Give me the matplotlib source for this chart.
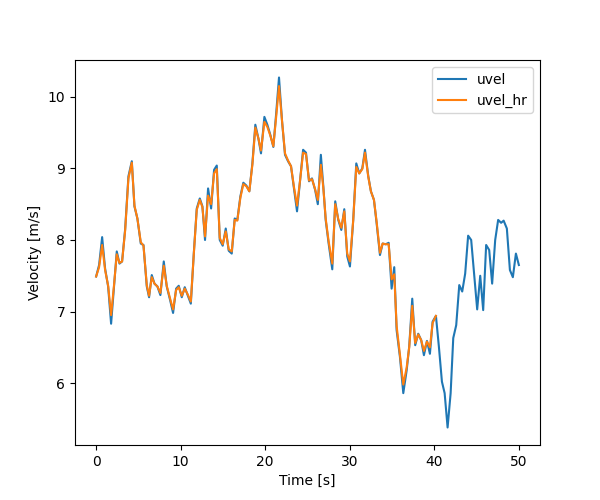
import matplotlib
matplotlib.use("Agg")
import matplotlib.pyplot as plt

# uvel samples (time [s], velocity [m/s])
time = [0.00, 0.35, 0.71, 1.06, 1.42, 1.77, 2.10, 2.44, 2.76, 3.07,
        3.43, 3.82, 4.22, 4.53, 4.88, 5.28, 5.60, 5.99, 6.26, 6.58,
        6.90, 7.25, 7.60, 8.00, 8.35, 8.75, 9.10, 9.46, 9.77, 10.13,
        10.48, 10.83, 11.20, 11.55, 11.90, 12.26, 12.57, 12.88, 13.24, 13.60,
        13.95, 14.27, 14.62, 14.97, 15.33, 15.68, 16.04, 16.39, 16.70, 17.06,
        17.41, 17.77, 18.12, 18.48, 18.83, 19.19, 19.50, 19.90, 20.25, 20.60,
        20.96, 21.31, 21.63, 21.99, 22.34, 22.70, 23.05, 23.40, 23.76, 24.11,
        24.48, 24.82, 25.18, 25.53, 25.90, 26.22, 26.58, 26.87, 27.15, 27.50,
        27.93, 28.28, 28.64, 29.00, 29.35, 29.70, 30.02, 30.41, 30.77, 31.12,
        31.48, 31.80, 32.19, 32.50, 32.86, 33.18, 33.57, 33.89, 34.24, 34.60,
        34.95, 35.26, 35.54, 35.93, 36.33, 36.73, 37.03, 37.39, 37.74, 38.10,
        38.45, 38.77, 39.13, 39.48, 39.80, 40.19, 40.54, 40.90, 41.22, 41.57,
        41.93, 42.24, 42.59, 42.95, 43.30, 43.65, 44.00, 44.36, 44.72, 45.07,
        45.43, 45.78, 46.13, 46.49, 46.84, 47.20, 47.55, 47.90, 48.20, 48.58,
        48.94, 49.29, 49.65, 50.00]

uvel = [7.49, 7.65, 8.04, 7.60, 7.35, 6.83, 7.32, 7.84, 7.67, 7.70,
        8.15, 8.89, 9.10, 8.47, 8.30, 7.95, 7.93, 7.35, 7.20, 7.51,
        7.39, 7.35, 7.23, 7.70, 7.35, 7.16, 6.98, 7.32, 7.36, 7.20,
        7.34, 7.23, 7.11, 7.81, 8.44, 8.58, 8.47, 8.00, 8.72, 8.44,
        8.98, 9.04, 8.00, 7.92, 8.16, 7.85, 7.81, 8.30, 8.28, 8.61,
        8.80, 8.76, 8.68, 9.07, 9.61, 9.42, 9.21, 9.72, 9.61, 9.47,
        9.30, 9.79, 10.27, 9.66, 9.19, 9.10, 9.03, 8.72, 8.40, 8.82,
        9.26, 9.22, 8.82, 8.86, 8.70, 8.50, 9.19, 8.75, 8.28, 7.95,
        7.59, 8.54, 8.28, 8.14, 8.43, 7.77, 7.63, 8.28, 9.07, 8.93,
        9.00, 9.26, 8.89, 8.68, 8.56, 8.23, 7.79, 7.95, 7.94, 7.96,
        7.32, 7.62, 6.74, 6.37, 5.86, 6.18, 6.51, 7.18, 6.53, 6.69,
        6.60, 6.39, 6.59, 6.41, 6.86, 6.94, 6.51, 6.02, 5.86, 5.38,
        5.86, 6.63, 6.81, 7.37, 7.28, 7.53, 8.06, 8.00, 7.51, 7.03,
        7.50, 7.02, 7.93, 7.86, 7.39, 8.00, 8.28, 8.24, 8.27, 8.16,
        7.58, 7.48, 7.81, 7.65]

# uvel_hr samples (ends at ~40.2 s)
time_hr = time[:116]
uvel_hr = [7.49, 7.62, 7.93, 7.58, 7.36, 6.95, 7.35, 7.80, 7.68, 7.70,
           8.13, 8.86, 9.08, 8.48, 8.30, 7.97, 7.92, 7.37, 7.22, 7.48,
           7.39, 7.35, 7.26, 7.64, 7.36, 7.18, 7.03, 7.30, 7.34, 7.22,
           7.32, 7.24, 7.14, 7.80, 8.42, 8.56, 8.46, 8.05, 8.62, 8.50,
           8.93, 8.99, 8.03, 7.94, 8.12, 7.87, 7.84, 8.28, 8.27, 8.59,
           8.78, 8.75, 8.68, 9.05, 9.57, 9.42, 9.25, 9.65, 9.58, 9.46,
           9.31, 9.74, 10.15, 9.66, 9.21, 9.11, 9.03, 8.74, 8.48, 8.82,
           9.22, 9.20, 8.83, 8.85, 8.71, 8.56, 9.05, 8.73, 8.30, 7.98,
           7.67, 8.50, 8.29, 8.17, 8.40, 7.81, 7.70, 8.28, 9.02, 8.93,
           8.99, 9.22, 8.88, 8.68, 8.56, 8.25, 7.82, 7.95, 7.94, 7.94,
           7.45, 7.52, 6.80, 6.40, 5.98, 6.22, 6.50, 7.08, 6.56, 6.68,
           6.60, 6.45, 6.58, 6.50, 6.84, 6.94]

fig, ax = plt.subplots(figsize=(6, 5), dpi=100)
ax.plot(time, uvel, label="uvel")
ax.plot(time_hr, uvel_hr, label="uvel_hr")
ax.set_xlabel("Time [s]")
ax.set_ylabel("Velocity [m/s]")
ax.legend(loc="upper right")
fig.savefig("out.png", dpi=100)
